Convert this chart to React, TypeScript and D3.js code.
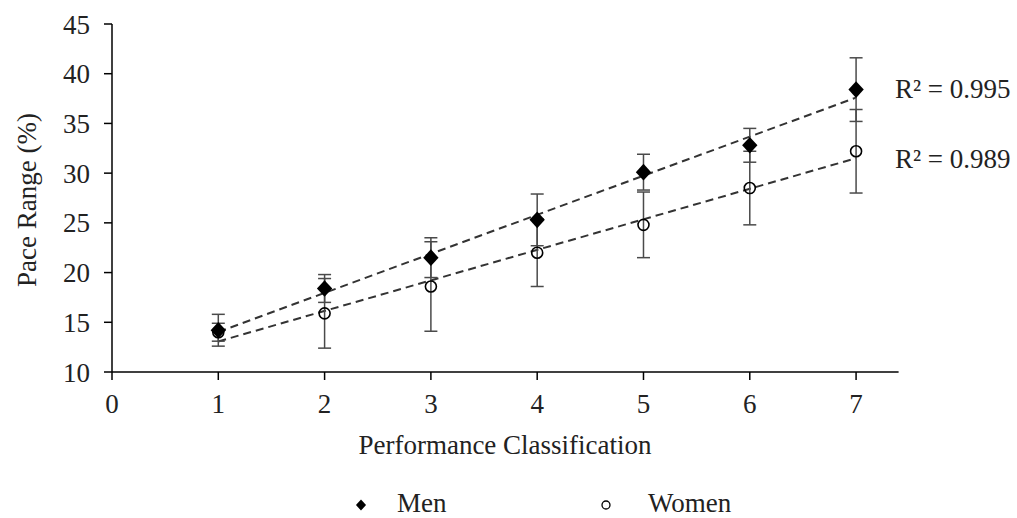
import React from 'react';
import * as d3 from 'd3';

// performance classes and group means / SD (pace range %)
const classes = [1, 2, 3, 4, 5, 6, 7];
const menMean = [14.2, 18.4, 21.5, 25.3, 30.1, 32.8, 38.4];
const menSd = [1.6, 1.4, 2.0, 2.6, 1.8, 1.7, 3.2];
const womenMean = [14.0, 15.9, 18.6, 22.0, 24.8, 28.5, 32.2];
const womenSd = [0.9, 3.5, 4.5, 3.4, 3.3, 3.7, 4.2];
const menR2 = 'R² = 0.995';
const womenR2 = 'R² = 0.989';
const xTicks = [0, 1, 2, 3, 4, 5, 6, 7];
const yTicks = [10, 15, 20, 25, 30, 35, 40, 45];

const W = 1017;
const H = 518;
const font = '"Liberation Serif", "Times New Roman", serif';
const fs = 27;

// least squares fit for the trend line
const fit = (xs: number[], ys: number[]) => {
  const mx = d3.mean(xs)!;
  const my = d3.mean(ys)!;
  const b = d3.sum(xs, (x, i) => (x - mx) * (ys[i] - my)) / d3.sum(xs, x => (x - mx) ** 2);
  const a = my - b * mx;
  return (x: number) => a + b * x;
};

export default function App() {
  const x = d3.scaleLinear().domain([0, 7.4]).range([112, 898.6]);
  const y = d3.scaleLinear().domain([10, 45]).range([372, 24]);

  const diamond = d3.symbol().type(d3.symbolDiamond2).size(150)();
  const legendDiamond = d3.symbol().type(d3.symbolDiamond2).size(65)();

  const line = d3.line<number[]>().x(d => x(d[0])).y(d => y(d[1]));
  const menFit = fit(classes, menMean);
  const womenFit = fit(classes, womenMean);
  const x0 = d3.min(classes)!;
  const x1 = d3.max(classes)!;

  const errBars = (means: number[], sds: number[], key: string) =>
    classes.map((c, i) => {
      const cx = x(c);
      const top = y(means[i] + sds[i]);
      const bot = y(means[i] - sds[i]);
      return (
        <g key={key + i} stroke="#4a4a4a" strokeWidth={1.5}>
          <line x1={cx} x2={cx} y1={top} y2={bot} />
          <line x1={cx - 6.5} x2={cx + 6.5} y1={top} y2={top} />
          <line x1={cx - 6.5} x2={cx + 6.5} y1={bot} y2={bot} />
        </g>
      );
    });

  return (
    <svg width={W} height={H} style={{ position: 'absolute', left: 0, top: 0, background: '#fff' }}
      fontFamily={font} fontSize={fs}>
      {/* trend lines */}
      <path d={line([[x0, menFit(x0)], [x1, menFit(x1)]])!} fill="none" stroke="#333"
        strokeWidth={2} strokeDasharray="8,5" />
      <path d={line([[x0, womenFit(x0)], [x1, womenFit(x1)]])!} fill="none" stroke="#333"
        strokeWidth={2} strokeDasharray="8,5" />

      {errBars(womenMean, womenSd, 'w')}
      {errBars(menMean, menSd, 'm')}

      {classes.map((c, i) => (
        <circle key={'wc' + i} cx={x(c)} cy={y(womenMean[i])} r={5.5}
          fill="none" stroke="#000" strokeWidth={1.6} />
      ))}
      {classes.map((c, i) => (
        <path key={'md' + i} d={diamond!} transform={`translate(${x(c)},${y(menMean[i])}) scale(1,1.08)`} fill="#000" />
      ))}

      {/* y axis */}
      <line x1={112} x2={112} y1={y(45)} y2={y(10)} stroke="#000" strokeWidth={1.5} />
      {yTicks.map(v => (
        <g key={v} transform={`translate(0,${y(v)})`}>
          <line x1={104} x2={112} stroke="#000" strokeWidth={1.5} />
          <text x={90} y={9.5} textAnchor="end" fill="#222">{v}</text>
        </g>
      ))}

      {/* x axis */}
      <line x1={112} x2={x(7.4)} y1={372} y2={372} stroke="#000" strokeWidth={1.5} />
      {xTicks.map(v => (
        <g key={v} transform={`translate(${x(v)},0)`}>
          <line y1={372} y2={380} stroke="#000" strokeWidth={1.5} />
          <text y={413} textAnchor="middle" fill="#222">{v}</text>
        </g>
      ))}

      <text transform="translate(36,200) rotate(-90)" textAnchor="middle" fill="#222">Pace Range (%)</text>
      <text x={505} y={454} textAnchor="middle" fill="#222">Performance Classification</text>

      <text x={895} y={98} fill="#222">{menR2}</text>
      <text x={895} y={168} fill="#222">{womenR2}</text>

      {/* legend */}
      <path d={legendDiamond!} transform="translate(361,505) scale(1,1.1)" fill="#000" />
      <text x={397} y={512} fill="#222">Men</text>
      <circle cx={606} cy={505} r={4} fill="none" stroke="#000" strokeWidth={1.3} />
      <text x={648} y={512} fill="#222">Women</text>
    </svg>
  );
}
